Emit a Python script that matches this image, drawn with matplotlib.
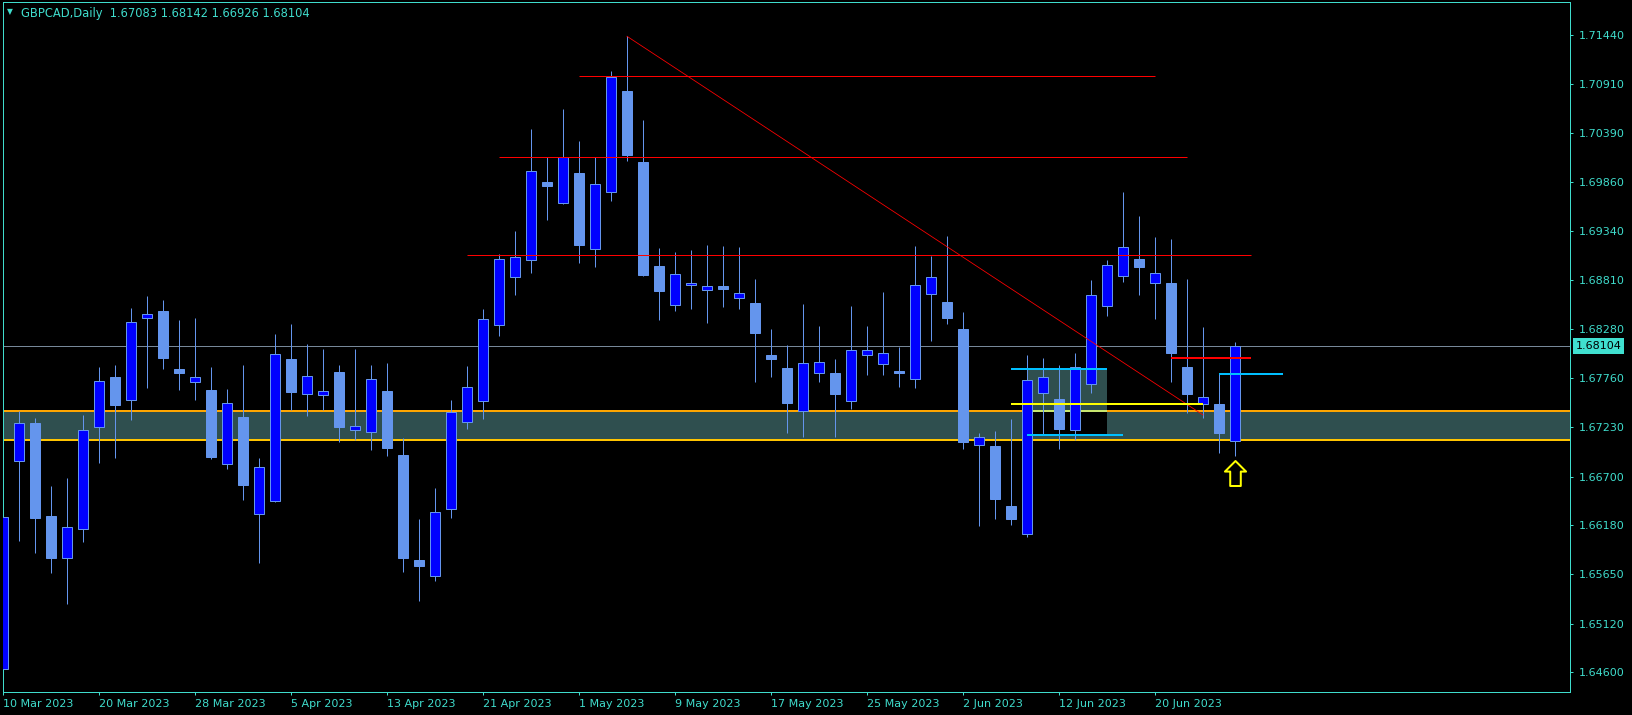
import matplotlib
matplotlib.use("Agg")
import matplotlib.pyplot as plt
import numpy as np
import pandas as pd
from matplotlib.path import Path
from matplotlib.transforms import offset_copy, blended_transform_factory

# ---------------- data ----------------
symbol = "GBPCAD,Daily"
dates = pd.bdate_range("2023-03-10", "2023-06-27")

opens = [1.64635, 1.66871, 1.67272, 1.66277, 1.65823, 1.66135, 1.67229, 1.67766, 1.67519, 1.68399,
         1.68478, 1.67855, 1.67712, 1.67630, 1.66832, 1.67340, 1.66296, 1.66442, 1.67959, 1.67590,
         1.67573, 1.67823, 1.67197, 1.67176, 1.67619, 1.66932, 1.65804, 1.65632, 1.66353, 1.67285,
         1.67513, 1.68325, 1.68842, 1.69022, 1.69862, 1.69635, 1.69959, 1.69142, 1.69752, 1.70839,
         1.70077, 1.68961, 1.68539, 1.68754, 1.68700, 1.68746, 1.68614, 1.68564, 1.68005, 1.67866,
         1.67401, 1.67809, 1.67812, 1.67509, 1.68002, 1.67906, 1.67834, 1.67745, 1.68657, 1.68571,
         1.68285, 1.67036, 1.67029, 1.66385, 1.66081, 1.67594, 1.67533, 1.67197, 1.67691, 1.68528,
         1.68850, 1.69036, 1.68775, 1.68778, 1.67877, 1.67476, 1.67480, 1.67083]

highs = [1.67040, 1.67404, 1.67329, 1.66599, 1.66685, 1.67362, 1.67873, 1.67895, 1.68510, 1.68639,
         1.68596, 1.68381, 1.68403, 1.67877, 1.67641, 1.67898, 1.66900, 1.68231, 1.68338, 1.68124,
         1.68070, 1.67898, 1.68070, 1.67898, 1.67920, 1.67112, 1.66248, 1.66581, 1.67526, 1.67890,
         1.68501, 1.69090, 1.69339, 1.70431, 1.70126, 1.70647, 1.70302, 1.70126, 1.71054, 1.71426,
         1.70528, 1.69154, 1.69111, 1.69132, 1.69186, 1.69175, 1.69165, 1.68821, 1.68285, 1.68113,
         1.68553, 1.68317, 1.67963, 1.68531, 1.68317, 1.68682, 1.68091, 1.69175, 1.69068, 1.69283,
         1.68467, 1.67168, 1.67190, 1.67319, 1.68005, 1.67973, 1.67898, 1.68027, 1.68810, 1.69025,
         1.69755, 1.69497, 1.69272, 1.69250, 1.68821, 1.68306, 1.67801, 1.68142]

lows = [1.64571, 1.66012, 1.65884, 1.65669, 1.65336, 1.66002, 1.66850, 1.66903, 1.67311, 1.67654,
        1.67858, 1.67633, 1.67526, 1.66892, 1.66785, 1.66452, 1.65776, 1.66425, 1.67415, 1.67354,
        1.67412, 1.67075, 1.67090, 1.66989, 1.66925, 1.65671, 1.65360, 1.65577, 1.66253, 1.67209,
        1.67313, 1.68214, 1.68654, 1.68882, 1.69450, 1.69626, 1.68994, 1.68954, 1.69662, 1.70091,
        1.68857, 1.68384, 1.68481, 1.68502, 1.68352, 1.68524, 1.68502, 1.67719, 1.67773, 1.67172,
        1.67129, 1.67719, 1.67129, 1.67429, 1.67794, 1.67794, 1.67665, 1.67654, 1.68159, 1.68341,
        1.67000, 1.66173, 1.66248, 1.66178, 1.66049, 1.67158, 1.67000, 1.67090, 1.67601, 1.68427,
        1.68792, 1.68653, 1.68395, 1.67719, 1.67386, 1.67332, 1.66950, 1.66926]

closes = [1.66267, 1.67272, 1.66259, 1.65830, 1.66156, 1.67197, 1.67723, 1.67472, 1.68356, 1.68442,
          1.67977, 1.67816, 1.67766, 1.66914, 1.67487, 1.66613, 1.66800, 1.68013, 1.67612, 1.67777,
          1.67616, 1.67236, 1.67240, 1.67745, 1.67011, 1.65821, 1.65737, 1.66320, 1.67394, 1.67661,
          1.68390, 1.69034, 1.69054, 1.69978, 1.69814, 1.70126, 1.69190, 1.69839, 1.70992, 1.70155,
          1.68867, 1.68696, 1.68872, 1.68775, 1.68743, 1.68717, 1.68668, 1.68245, 1.67966, 1.67494,
          1.67916, 1.67927, 1.67590, 1.68056, 1.68056, 1.68024, 1.67816, 1.68754, 1.68839, 1.68406,
          1.67075, 1.67122, 1.66463, 1.66248, 1.67737, 1.67766, 1.67214, 1.67873, 1.68646, 1.68968,
          1.69161, 1.68953, 1.68882, 1.68030, 1.67590, 1.67551, 1.67172, 1.68104]

ytick_values = [1.71440, 1.70910, 1.70390, 1.69860, 1.69340, 1.68810, 1.68280,
                1.67760, 1.67230, 1.66700, 1.66180, 1.65650, 1.65120, 1.64600]
xtick_labels = ["10 Mar 2023", "20 Mar 2023", "28 Mar 2023", "5 Apr 2023", "13 Apr 2023",
                "21 Apr 2023", "1 May 2023", "9 May 2023", "17 May 2023", "25 May 2023",
                "2 Jun 2023", "12 Jun 2023", "20 Jun 2023"]

bid_price = 1.68104
zone_top, zone_bottom = 1.67408, 1.67093
# horizontal red levels: (start bar, end bar, price)
red_levels = [(36, 72, 1.71000), (31, 74, 1.70127), (29, 78, 1.69076)]
# trend line: (bar, price) -> (bar, price)
trend_start, trend_end = (39, 1.71426), (75, 1.67362)
# small box (bar from, bar to, low, high)
box = (64, 69, 1.67150, 1.67855)
cyan_lines = [(63, 69, 1.67855), (64, 70, 1.67150), (76, 80, 1.67805)]
yellow_lines = [(63, 75, 1.67483)]
red_thick_lines = [(73, 78, 1.67973)]
arrow_bar = 77

# ---------------- style ----------------
FG = "#3fdccc"
BULL = "#0000ff"
BEAR = "#6495ed"
px = 0.72  # one pixel in points at 100 dpi

W, H = 1633, 715
fig = plt.figure(figsize=(W / 100, H / 100), dpi=100, facecolor="black")
ax = fig.add_axes([2.7 / W, (H - 692) / H, (1570 - 2.7) / W, 690 / H])
ax.set_facecolor("black")

x = np.arange(len(opens))
o = np.array(opens); h = np.array(highs); l = np.array(lows); c = np.array(closes)
bull = c >= o

xmax = 97.94
# zone
ax.axhspan(zone_bottom, zone_top, color="#2f4f4f", zorder=0.5, lw=0)
# box (XOR look with zone)
bx0, bx1, blo, bhi = box
ax.fill_between([bx0, bx1], zone_top, bhi, color="#2f4f4f", lw=0, zorder=0.6)
ax.fill_between([bx0, bx1], blo, zone_top, color="black", lw=0, zorder=0.7)
ax.axhline(zone_top, color="#ffa500", lw=2 * px, zorder=0.8)
ax.axhline(zone_bottom, color="#ffc400", lw=2 * px, zorder=0.8)
ax.hlines(zone_top, bx0, bx1, color="#c8e66e", lw=2 * px, zorder=0.9)

# bid line
ax.axhline(bid_price, color="#778899", lw=1 * px, zorder=1)

# candles
ax.vlines(x, l, h, color=BEAR, lw=1 * px, zorder=2)
body_lo = np.minimum(o, c)
body_h = np.maximum(np.abs(c - o), 1e-6)
ax.bar(x, body_h, bottom=body_lo, width=0.625,
       color=np.where(bull, BULL, BEAR), edgecolor=BEAR, linewidth=1 * px, zorder=3)

# objects
for s, e, p in red_levels:
    ax.hlines(p, s, e, color="#ff0000", lw=1 * px, zorder=4)
ax.plot([trend_start[0], trend_end[0]], [trend_start[1], trend_end[1]],
        color="#ff0000", lw=0.8 * px, zorder=4)
for s, e, p in cyan_lines:
    ax.hlines(p, s, e, color="#00bfff", lw=2 * px, zorder=4)
for s, e, p in yellow_lines:
    ax.hlines(p, s, e, color="#ffff00", lw=2 * px, zorder=4)
for s, e, p in red_thick_lines:
    ax.hlines(p, s, e, color="#ff0000", lw=2 * px, zorder=4)

# up arrow marker below last candle
verts = [(0, 13), (11, 2), (5.5, 2), (5.5, -13), (-5.5, -13), (-5.5, 2), (-11, 2), (0, 13)]
codes = [Path.MOVETO] + [Path.LINETO] * 6 + [Path.CLOSEPOLY]
arrow = Path(verts, codes)
tr = offset_copy(ax.transData, fig=fig, x=0, y=-17 * px, units="points")
ax.plot([arrow_bar], [lows[arrow_bar]], marker=arrow, markersize=25 * px,
        markerfacecolor="black", markeredgecolor="#ffff00", markeredgewidth=2 * px,
        transform=tr, zorder=6, clip_on=False)

# axes
ax.set_xlim(-0.02, xmax)
ax.set_ylim(1.64388, 1.71794)
for sp in ax.spines.values():
    sp.set_color(FG)
    sp.set_linewidth(1 * px)

ax.yaxis.tick_right()
ax.set_yticks(ytick_values)
ax.set_yticklabels([f"{v:.5f}" for v in ytick_values])
ax.set_xticks(np.arange(0, len(opens), 6)[:len(xtick_labels)])
ax.set_xticklabels(xtick_labels, ha="left")
ax.tick_params(axis="both", colors=FG, labelsize=8, length=3 * px, width=1 * px,
               direction="out", pad=2)
ax.tick_params(axis="y", pad=4)
ax.tick_params(axis="x", pad=3)

# bid label box
btr = blended_transform_factory(ax.transAxes, ax.transData)
ax.annotate(f"{bid_price:.5f}", xy=(1, bid_price), xycoords=btr,
            xytext=(4, 0), textcoords="offset points", ha="left", va="center",
            fontsize=8, color="black",
            bbox=dict(boxstyle="square,pad=0.25", fc="#40e0d0", ec="none"),
            annotation_clip=False)

# header
fig.text(7 / W, 1 - 12 / H, "▼", color=FG, fontsize=5.5, va="center", ha="left")
fig.text(21 / W, 1 - 13 / H,
         f"{symbol}  {opens[-1]:.5f} {highs[-1]:.5f} {lows[-1]:.5f} {closes[-1]:.5f}",
         color=FG, fontsize=8.3, va="center", ha="left")

fig.savefig("out.png", dpi=100, facecolor="black")
